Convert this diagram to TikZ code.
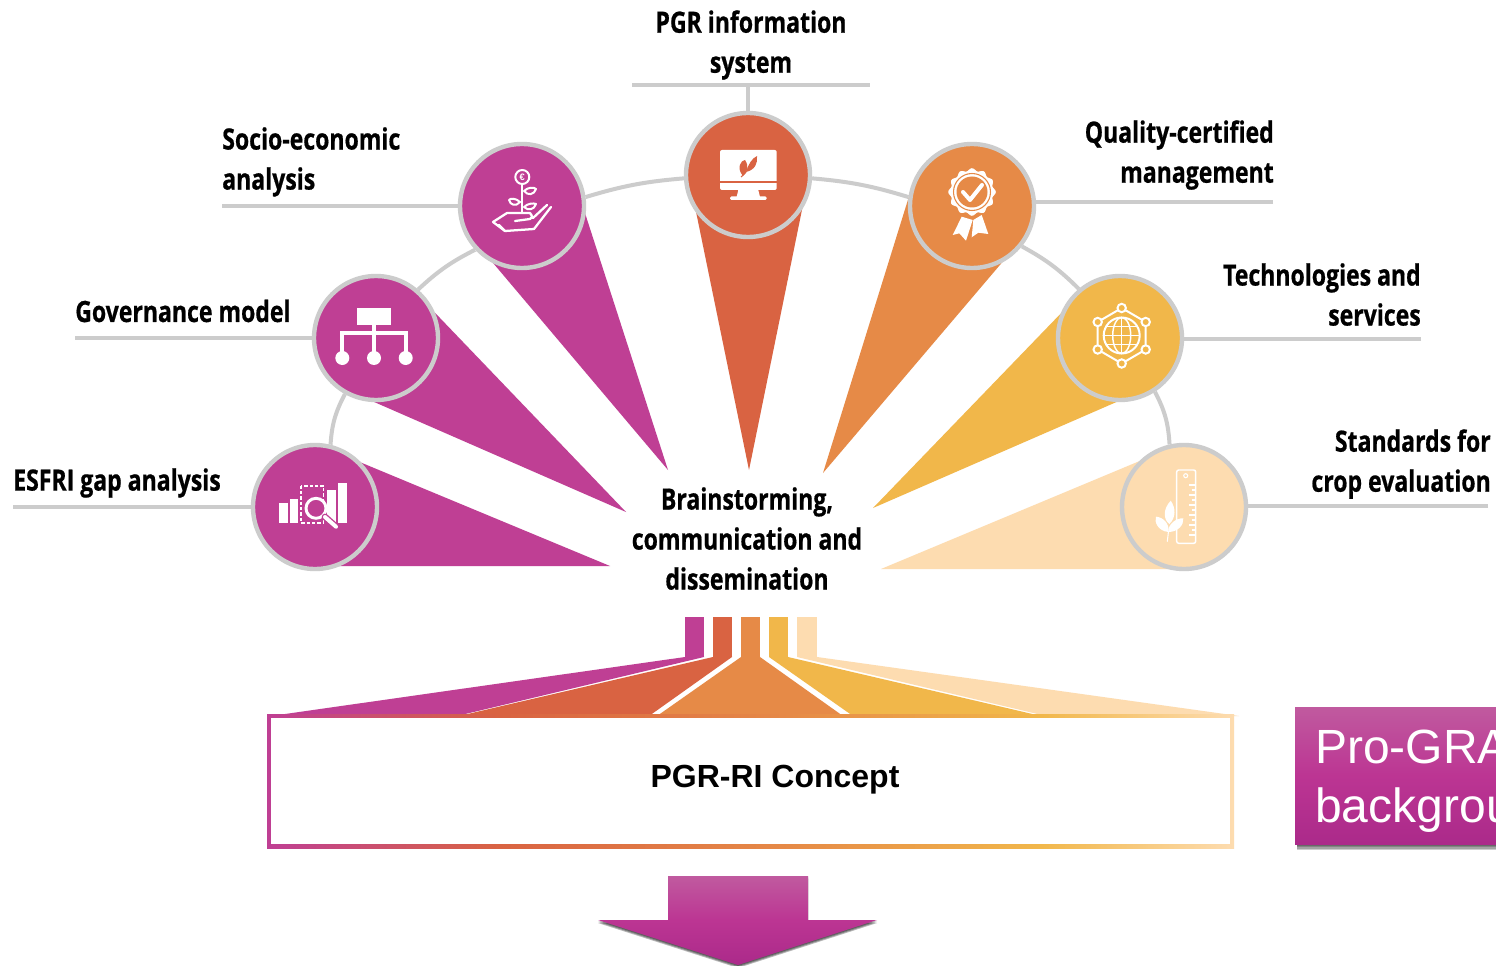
\documentclass[tikz,border=0pt]{standalone}
\usepackage{fontspec}
\usetikzlibrary{calc}
\newfontfamily\labf[FakeStretch=0.785,FakeBold=0.6]{Open Sans}
\newfontfamily\arialf{Liberation Sans}
\definecolor{mg}{HTML}{BF3F94}
\definecolor{rd}{HTML}{D96342}
\definecolor{og}{HTML}{E68A47}
\definecolor{yl}{HTML}{F1B74A}
\definecolor{lt}{HTML}{FDDCB0}
\definecolor{gy}{HTML}{CCCCCC}
\definecolor{gtop}{HTML}{C05A9F}
\definecolor{gmid}{HTML}{BC3593}
\definecolor{gbot}{HTML}{AB2A8A}
\pgfdeclarehorizontalshading{conceptshade}{100bp}{color(0bp)=(mg); color(25bp)=(mg); color(37bp)=(rd); color(52bp)=(og); color(65bp)=(yl); color(75bp)=(lt); color(100bp)=(lt)}
\pgfdeclareverticalshading{pinkshade}{100bp}{color(0bp)=(gbot); color(25bp)=(gbot); color(50bp)=(gmid); color(75bp)=(gtop); color(100bp)=(gtop)}
\tikzset{
  x=0.75pt,y=-0.75pt,
  hub/.style={circle,draw=gy,line width=3.3pt,minimum size=93pt,inner sep=0pt,fill=#1},
  leader/.style={draw=gy,line width=3pt},
  lab/.style={font=\labf\bfseries\fontsize{22}{30}\selectfont,inner sep=0pt,text=black},
  ico/.style={draw=white,line width=1.5pt,line cap=round,line join=round},
}
\begin{document}
\begin{tikzpicture}
\useasboundingbox (0,0) rectangle (1496,966);
\clip (0,0) rectangle (1496,966);
\fill[white] (0,0) rectangle (1496,966);

% wedges
\fill[mg] (350,458) -- (610,566) -- (330,566) -- (315,507) -- cycle;
\fill[mg] (428,305.5) -- (626,512) -- (365,398) -- (376,338) -- cycle;
\fill[mg] (584,210) -- (668,470) -- (488,257) -- (522,206) -- cycle;
\fill[rd] (693.6,200) -- (749,470) -- (805,195) -- (748,175) -- cycle;
\fill[og] (911,190) -- (823,473) -- (1005,259) -- (972,206) -- cycle;
\fill[yl] (1068,306) -- (873,508) -- (1128,397) -- (1120,338) -- cycle;
\fill[lt] (1150,456.7) -- (881,569) -- (1184,569) -- (1184,507) -- cycle;

% hubs
\node[hub=mg] (esfri) at (315,507) {};
\node[hub=mg] (gov) at (376,338) {};
\node[hub=mg] (socio) at (522,206) {};
\node[hub=rd] (pgr) at (748,175) {};
\node[hub=og] (qual) at (972,206) {};
\node[hub=yl] (tech) at (1120,338) {};
\node[hub=lt] (std) at (1184,507) {};

% arc pieces
\draw[leader] (esfri.76) to[bend left=12] (gov.241);
\draw[leader] (gov.49) to[bend left=8] (socio.223);
\draw[leader] (socio.8) to[bend left=6] (pgr.183);
\draw[leader] (pgr.357) to[bend left=6] (qual.172);
\draw[leader] (qual.321) to[bend left=8] (tech.130);
\draw[leader] (tech.303) to[bend left=12] (std.103);

% leaders
\coordinate (lesfri) at (13,507);
\coordinate (lgov) at (75,338);
\coordinate (lsocio) at (222,206);
\coordinate (lq) at (1273,202);
\coordinate (ltech) at (1421,339);
\coordinate (lstd) at (1488,506);
\coordinate (lpa) at (632,85);
\coordinate (lpb) at (870,85);
\coordinate (lpc) at (748,85);
\draw[leader] (lesfri) -- (esfri.west |- lesfri);
\draw[leader] (lgov) -- (gov.west);
\draw[leader] (lsocio) -- (socio.west);
\draw[leader] (lq) -- (qual.east |- lq);
\draw[leader] (ltech) -- (tech.east |- ltech);
\draw[leader] (lstd) -- (std.east |- lstd);
\draw[leader] (lpa) -- (lpb);
\draw[leader] (lpc) -- (pgr.north);

% labels
\node[lab,align=center,anchor=north] (tpgr) at (751,10) {PGR information\\system};
\node[lab,align=left,anchor=north west] (tsocio) at (222,127) {Socio-economic\\analysis};
\node[lab,align=left,anchor=west] (tgov) at (75,311) {Governance model};
\node[lab,align=left,anchor=west] (tesfri) at (13,483) {ESFRI gap analysis};
\node[lab,align=right,anchor=north east] (tq) at (1274,120) {Quality-certified\\management};
\node[lab,align=right,anchor=north east] (ttech) at (1421,263) {Technologies and\\services};
\node[lab,align=right,anchor=north east] (tstd) at (1491,429) {Standards for\\crop evaluation};
\node[lab,align=center,anchor=north] (tcenter) at (747,487) {Brainstorming,\\communication and\\dissemination};

% ===== icons =====
% socio
\draw[ico] (522.3,177) circle (7);
\node[text=white,font=\arialf\bfseries\fontsize{7}{7}\selectfont,inner sep=0pt] (eur) at (522.3,177) {€};
\draw[ico] (522,184) -- (522,213);
\draw[ico] (524,191) .. controls (528,187) and (534,187) .. (536,189) .. controls (534,195) and (528,196) .. (524,191) -- cycle;
\draw[ico] (520,202) .. controls (516,198) and (510,198) .. (509,200) .. controls (510,205) and (516,207) .. (520,202) -- cycle;
\draw[ico] (524,207) .. controls (528,203) and (534,203) .. (536,204) .. controls (534,210) and (528,211) .. (524,207) -- cycle;
\draw[ico,line width=1.7pt] (551,207) -- (534,229) -- (505,231) -- (493,222) -- (507,213) -- (530,213) .. controls (533,216) and (532,219) .. (530,219) -- (515,221);
\draw[ico,line width=1.7pt] (533,218) -- (547,205);
\draw[ico,line width=1.7pt] (499,225) -- (505,231);

% gov
\fill[white] (357.3,308.3) rectangle (390.7,325);
\draw[white,line width=3pt] (374,325) -- (374,352);
\draw[white,line width=3pt] (342.3,352) -- (342.3,333.3) -- (405.7,333.3) -- (405.7,352);
\foreach \p in {342.3,374,405.7} \fill[white] (\p,358) circle (7);

% esfri
\fill[white] (279,503.3) rectangle (288.3,522.7);
\fill[white] (290,499.3) rectangle (298.3,522.7);
\fill[white] (327.3,490) rectangle (336,522.7);
\fill[white] (338.3,483.3) rectangle (347,522.7);
\draw[white,line width=1.2pt,dash pattern=on 2.5pt off 1.5pt] (301,485.7) rectangle (323.3,522.7);
\draw[white,line width=2.2pt,fill=mg] (316,508.3) circle (10);
\draw[mg,line width=5pt,line cap=round] (325,517) -- (336,526.7);
\draw[white,line width=3pt,line cap=round] (325,517) -- (336,526.7);

% pgr
\fill[white,rounded corners=1.5pt] (720,150) rectangle (776.7,190);
\draw[rd,line width=0.8pt] (720,182) -- (776.7,182);
\fill[white] (738.3,190) -- (758.3,190) -- (760,197) -- (736.6,197) -- cycle;
\fill[white,rounded corners=1pt] (730,196.5) rectangle (766.7,200);
\fill[rd] (743,176) .. controls (736,168) and (741,160) .. (745,160) .. controls (749,166) and (748,172) .. (743,176) -- cycle;
\fill[rd] (746,172) .. controls (748,165) and (752,158) .. (757,156) .. controls (758,163) and (755,170) .. (746,172) -- cycle;
\draw[rd,line width=0.8pt] (746,172) -- (741,177);

% quality
\fill[white] (961.7,216.7) -- (952.7,235) -- (959.3,233.3) -- (966,240.7) -- (972.7,220) -- cycle;
\fill[white] (973.3,220) -- (971.7,237.3) -- (978.3,232.7) -- (988.3,234) -- (981.7,215) -- cycle;
\fill[white] plot[domain=0:360,samples=120] ({972+(22.5+1.3*cos(12*\x))*cos(\x)},{192+(22.5+1.3*cos(12*\x))*sin(\x)}) -- cycle;
\draw[og,line width=0.8pt] (972,192) circle (18.5);
\fill[og] (972,192) circle (15.5);
\draw[white,line width=3pt,line cap=round,line join=round] (963,192) -- (970,200) -- (982,185);

% tech
\begin{scope}[shift={(1121.7,335.5)}]
\draw[white,line width=1.5pt] (0,-27.5) -- (24,-13.5) -- (24,14) -- (0,28) -- (-24,14) -- (-24,-13.5) -- cycle;
\foreach \a/\b in {0/-27.5,24/-13.5,24/14,0/28,-24/14,-24/-13.5} \draw[white,line width=1.5pt,fill=yl] (\a,\b) circle (4.2);
\draw[white,line width=1.5pt] (0,0) circle (18);
\draw[white,line width=1.1pt] (0,0) ellipse (9 and 18);
\draw[white,line width=1.1pt] (0,-18) -- (0,18);
\draw[white,line width=1.1pt] (-18,0) -- (18,0);
\draw[white,line width=1.1pt] (-15.5,-9) -- (15.5,-9);
\draw[white,line width=1.1pt] (-15.5,9) -- (15.5,9);
\end{scope}

% standards
\draw[white,line width=1.1pt,rounded corners=1.5pt] (1176.7,470) rectangle (1195.7,543.3);
\draw[white,line width=0.8pt] (1185.7,475.7) circle (2);
\foreach \i in {0,...,10} {
  \pgfmathsetmacro{\yy}{485+5*\i}
  \pgfmathsetmacro{\xx}{mod(\i,2)==0 ? 1189 : 1191.5}
  \draw[white,line width=0.8pt] (\xx,\yy) -- (1195.7,\yy);
}
\fill[white] (1170.7,500.7) .. controls (1162,510) and (1164,520) .. (1169.3,524) .. controls (1176,518) and (1176,508) .. (1170.7,500.7) -- cycle;
\fill[white] (1168.3,532) .. controls (1158,531) and (1154,522) .. (1156,516.7) .. controls (1163,517) and (1170,524) .. (1168.3,532) -- cycle;
\fill[white] (1168.3,532) .. controls (1178,532) and (1184,525) .. (1183.3,518.3) .. controls (1176,518) and (1168,524) .. (1168.3,532) -- cycle;
\draw[white,line width=0.8pt] (1167.3,541.7) -- (1168.5,531);

% ===== bottom ribbons =====
\fill[mg] (685,617) rectangle (704,657);
\fill[rd] (713,617) rectangle (732,657);
\fill[og] (741,617) rectangle (760,657);
\fill[yl] (769,617) rectangle (788,657);
\fill[lt] (797,617) rectangle (817,657);
\fill[mg] (685,656.5) -- (704,656.5) -- (704,657) -- (457,716) -- (271,716) -- (685,657) -- cycle;
\fill[rd] (713,656.5) -- (732,656.5) -- (732,657) -- (649,716) -- (459,716) -- (713,657) -- cycle;
\fill[og] (741,656.5) -- (760,656.5) -- (760,657) -- (843,716) -- (657,716) -- (741,657) -- cycle;
\fill[yl] (769,656.5) -- (788,656.5) -- (788,657) -- (1041,716) -- (853,716) -- (769,657) -- cycle;
\fill[lt] (797,656.5) -- (817,656.5) -- (817,657) -- (1239,716) -- (1046,716) -- (797,657) -- cycle;

% concept box
\shade[shading=conceptshade] (267,714) rectangle (1234,848);
\fill[white] (271,718) rectangle (1230,844);
\node[font=\arialf\bfseries\fontsize{24}{24}\selectfont,inner sep=0pt] (concept) at (775,780) {PGR-RI Concept};

% right box
\foreach \d in {1.5,3,4.5,6} \fill[black,opacity=.2] (1297,720) rectangle (1500,844+\d);
\shade[shading=pinkshade] (1295,707) rectangle (1500,844);
\node[anchor=base west,text=white,font=\arialf\fontsize{36}{36}\selectfont,inner sep=0pt] (box1) at (1315,763) {Pro-GRA};
\node[anchor=base west,text=white,font=\arialf\fontsize{36}{36}\selectfont,inner sep=0pt] (box2) at (1315,822) {backgrou};

% big arrow
\foreach \d in {1,2,3} \fill[black,opacity=.28] (668,876+\d) -- (808,876+\d) -- (808,920+\d) -- (877,920+\d) -- (738,965+\d) -- (598,920+\d) -- (668,920+\d) -- cycle;
\shade[shading=pinkshade] (668,876) -- (808,876) -- (808,920) -- (877,920) -- (738,965) -- (598,920) -- (668,920) -- cycle;
\end{tikzpicture}
\end{document}
